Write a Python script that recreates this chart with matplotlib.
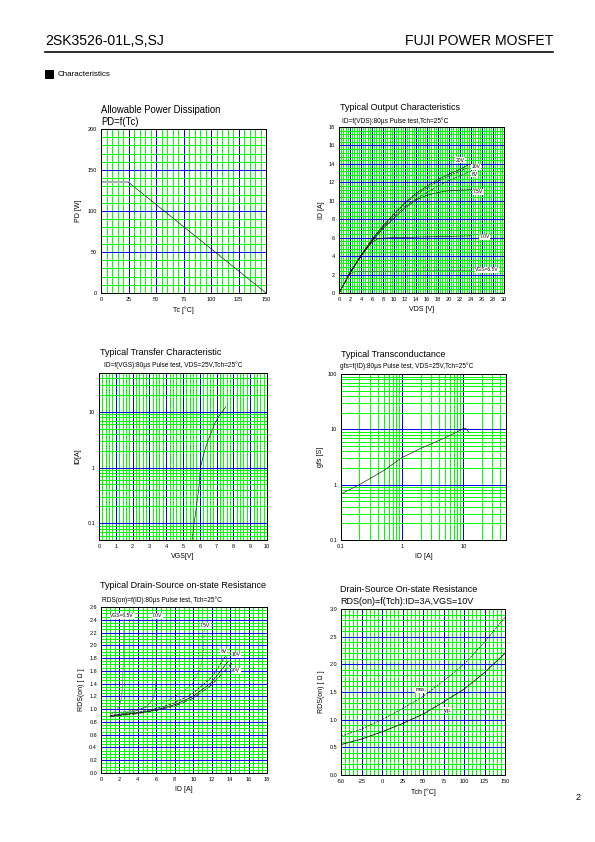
import numpy as np
import matplotlib
matplotlib.use("Agg")
import matplotlib.pyplot as plt
from matplotlib.ticker import MultipleLocator, LogLocator, NullFormatter, FixedLocator

plt.rcParams['font.family'] = ['Liberation Sans', 'DejaVu Sans']
plt.rcParams['axes.unicode_minus'] = False

# --- donnees ---
# puissance admissible
pd_tc = [25, 150]
pd_w = [135, 0]
pd_flat_tc = [0, 25]
pd_flat_w = [135, 135]

# caracteristiques de sortie (VDS, ID) par VGS
out_vds = [0, 2, 4, 6, 8, 10, 12, 14, 16, 18, 20, 22, 23.5]
out_20v = [0, 2.2, 4.1, 5.8, 7.3, 8.6, 9.8, 10.8, 11.6, 12.3, 12.9, 13.4, 13.9]
out_10v = [0, 2.2, 4.1, 5.8, 7.2, 8.5, 9.7, 10.6, 11.4, 12.1, 12.7, 13.2, 13.6]
out_8v = [0, 2.2, 4.0, 5.7, 7.1, 8.3, 9.4, 10.2, 10.9, 11.6, 12.2, 12.7, 13.1]
out_75v_vds = [0, 2, 4, 6, 8, 10, 12, 14, 16, 18, 20, 24]
out_75v = [0, 2.2, 4.0, 5.6, 7.0, 8.1, 9.2, 10.1, 10.6, 10.9, 11.1, 11.2]
out_7v_vds = [0, 2, 4, 5, 6, 7, 8, 10, 24]
out_7v = [0, 2.1, 4.0, 4.8, 5.5, 5.85, 5.95, 6.0, 6.2]
out_65v_vds = [0, 1, 2, 2.5, 3, 4, 24]
out_65v = [0, 1.1, 2.0, 2.2, 2.3, 2.35, 2.45]
out_labels = ["20V", "10V", "8V", "7.5V", "7.0V", "VGS=6.5V"]
out_lab_x = [22.0, 24.9, 24.7, 25.3, 26.5, 26.9]
out_lab_y = [14.4, 13.7, 12.9, 11.0, 6.1, 2.5]

# caracteristique de transfert
tr_vgs = [5.54, 5.66, 5.8, 5.95, 6.04, 6.2, 6.35, 6.51, 6.7, 6.9, 7.15, 7.4, 7.55]
tr_id = [0.05, 0.1, 0.2, 0.45, 1.0, 1.6, 2.3, 3.2, 4.4, 6.3, 8.5, 10.8, 12.3]

# transconductance
gfs_id = [0.1, 0.2, 0.5, 1, 2, 5, 8, 10.2, 11.3, 12.4]
gfs_s = [0.68, 1.0, 1.8, 3.1, 4.5, 7.0, 9.0, 10.5, 10.2, 8.7]

# RDS(on) = f(ID)
r_65v_id = [1, 1.5, 2.0, 2.25, 2.35, 2.42, 2.46, 2.5]
r_65v = [0.93, 0.96, 1.04, 1.2, 1.45, 1.8, 2.1, 2.4]
r_7v_id = [1, 2, 3, 4, 5, 5.6, 5.9, 6.0, 6.05, 6.1]
r_7v = [0.9, 0.92, 0.95, 0.98, 1.05, 1.15, 1.3, 1.5, 2.0, 2.45]
r_75v_id = [1, 3, 5, 7, 9, 10, 10.8, 11.1, 11.2]
r_75v = [0.93, 0.97, 1.03, 1.12, 1.28, 1.42, 1.65, 1.9, 2.25]
r_8v_id = [1, 4, 6, 8, 10, 12, 13.5]
r_8v = [0.9, 0.95, 1.01, 1.1, 1.25, 1.5, 1.83]
r_10v_id = [1, 4, 6, 8, 10, 12, 13.8]
r_10v = [0.89, 0.94, 0.99, 1.07, 1.2, 1.42, 1.75]
r_20v_id = [1, 4, 6, 8, 10, 12, 14.2]
r_20v = [0.88, 0.93, 0.98, 1.05, 1.17, 1.38, 1.72]
r_labels = ["VGS=6.5V", "7.0V", "7.5V", "8V", "10V", "20V"]
r_lab_x = [2.3, 6.1, 11.3, 13.3, 14.6, 14.6]
r_lab_y = [2.46, 2.46, 2.31, 1.9, 1.85, 1.6]

# RDS(on) = f(Tch)
tch = [-50, -25, 0, 25, 50, 75, 100, 125, 150]
rds_typ = [0.55, 0.65, 0.78, 0.93, 1.1, 1.32, 1.55, 1.85, 2.2]
rds_max = [0.7, 0.83, 1.0, 1.2, 1.42, 1.7, 2.0, 2.4, 2.85]

W, H = 595, 842
fig = plt.figure(figsize=(W / 72, H / 72), dpi=72)

GREEN = '#00ff00'
BLUE = '#0000ff'


def txt(x, y, s, **kw):
    kw.setdefault('va', 'center')
    return fig.text(x / W, 1 - y / H, s, **kw)


def axes_px(l, t, r, b):
    ax = fig.add_axes([l / W, 1 - b / H, (r - l) / W, (b - t) / H])
    ax.set_axisbelow(True)
    ax.tick_params(which='both', length=0, labelsize=5.5, pad=4)
    for s in ax.spines.values():
        s.set_linewidth(1.0)
    return ax


def grille(ax):
    ax.grid(which='minor', color=GREEN, lw=1.0, antialiased=False)
    ax.grid(which='major', color=BLUE, lw=1.0, antialiased=False)


def etiquette(ax, x, y, s):
    ax.text(x, y, s, fontsize=5, ha='center', va='center',
            bbox=dict(facecolor='white', edgecolor='none', pad=0.5))


# en-tete
txt(45, 41, "2SK3526-01L,S,SJ", fontsize=14)
txt(553, 41, "FUJI POWER MOSFET", fontsize=14, ha='right')
fig.add_artist(plt.Line2D([45 / W, 553 / W], [1 - 52 / H, 1 - 52 / H], color='black', lw=1.6))
fig.add_artist(plt.Rectangle((45 / W, 1 - 78 / H), 8 / W, 8 / H, color='black'))
txt(58, 74, "Characteristics", fontsize=8)
txt(581, 797, "2", fontsize=9, ha='right')

# 1. puissance admissible
ax = axes_px(101, 129, 266, 293)
ax.set_xlim(0, 150)
ax.set_ylim(0, 200)
ax.xaxis.set_major_locator(MultipleLocator(25))
ax.xaxis.set_minor_locator(MultipleLocator(5))
ax.yaxis.set_major_locator(MultipleLocator(50))
ax.yaxis.set_minor_locator(MultipleLocator(10))
grille(ax)
ax.plot(pd_flat_tc, pd_flat_w, color='#b0b0b0', lw=2)
ax.plot(pd_tc, pd_w, color='black', lw=0.6)
txt(101, 110, "Allowable Power Dissipation", fontsize=9.5)
txt(101, 122, "PD=f(Tc)", fontsize=9.5)
ax.set_xlabel("Tc [°C]", fontsize=7, labelpad=4)
ax.set_ylabel("PD [W]", fontsize=7, labelpad=6)

# 2. caracteristiques de sortie
ax = axes_px(339, 127, 504, 293)
ax.set_xlim(0, 30)
ax.set_ylim(0, 18)
ax.xaxis.set_major_locator(MultipleLocator(2))
ax.xaxis.set_minor_locator(MultipleLocator(0.4))
ax.yaxis.set_major_locator(MultipleLocator(2))
ax.yaxis.set_minor_locator(MultipleLocator(0.4))
grille(ax)
ax.plot(out_vds, out_20v, color='black', lw=0.6)
ax.plot(out_vds, out_10v, color='black', lw=0.6, ls='--')
ax.plot(out_vds, out_8v, color='black', lw=0.6, ls='-.')
ax.plot(out_75v_vds, out_75v, color='black', lw=0.6)
ax.plot(out_7v_vds, out_7v, color='black', lw=0.6)
ax.plot(out_65v_vds, out_65v, color='#555555', lw=0.6)
for s, x, y in zip(out_labels, out_lab_x, out_lab_y):
    etiquette(ax, x, y, s)
txt(340, 108, "Typical Output Characteristics", fontsize=9)
txt(342, 121, "ID=f(VDS):80µs Pulse test,Tch=25°C", fontsize=6.5)
ax.set_xlabel("VDS [V]", fontsize=7, labelpad=4)
ax.set_ylabel("ID [A]", fontsize=7, labelpad=4)

# 3. caracteristique de transfert
ax = axes_px(99, 373, 267, 540)
ax.set_xlim(0, 10)
ax.set_yscale('log')
ax.set_ylim(0.05, 50)
ax.xaxis.set_major_locator(MultipleLocator(1))
ax.xaxis.set_minor_locator(MultipleLocator(0.2))
ax.yaxis.set_major_locator(FixedLocator([0.1, 1, 10]))
ax.yaxis.set_minor_locator(LogLocator(base=10, subs=np.arange(2, 10)))
ax.yaxis.set_minor_formatter(NullFormatter())
ax.set_yticklabels(["0.1", "1", "10"])
grille(ax)
ax.plot(tr_vgs, tr_id, color='black', lw=0.6)
txt(100, 352, "Typical Transfer Characteristic", fontsize=9)
txt(104, 365, "ID=f(VGS):80µs Pulse test, VDS=25V,Tch=25°C", fontsize=6.5)
ax.set_xlabel("VGS[V]", fontsize=7, labelpad=4)
ax.set_ylabel("ID[A]", fontsize=7, labelpad=6)

# 4. transconductance
ax = axes_px(341, 374, 506, 540)
ax.set_xscale('log')
ax.set_yscale('log')
ax.set_xlim(0.1, 50)
ax.set_ylim(0.1, 100)
ax.xaxis.set_major_locator(FixedLocator([0.1, 1, 10]))
ax.yaxis.set_major_locator(FixedLocator([0.1, 1, 10, 100]))
for a in (ax.xaxis, ax.yaxis):
    a.set_minor_locator(LogLocator(base=10, subs=np.arange(2, 10)))
    a.set_minor_formatter(NullFormatter())
ax.set_xticklabels(["0.1", "1", "10"])
ax.set_yticklabels(["0.1", "1", "10", "100"])
grille(ax)
ax.plot(gfs_id, gfs_s, color='black', lw=0.6)
txt(341, 355, "Typical Transconductance", fontsize=9)
txt(340, 366, "gfs=f(ID):80µs Pulse test, VDS=25V,Tch=25°C", fontsize=6.5)
ax.set_xlabel("ID [A]", fontsize=7, labelpad=4)
ax.set_ylabel("gfs [S]", fontsize=7, labelpad=4)

# 5. RDS(on) = f(ID)
ax = axes_px(101, 607, 267, 773)
ax.set_xlim(0, 18)
ax.set_ylim(0, 2.6)
ax.xaxis.set_major_locator(MultipleLocator(2))
ax.xaxis.set_minor_locator(MultipleLocator(0.5))
ax.yaxis.set_major_locator(MultipleLocator(0.2))
ax.yaxis.set_minor_locator(MultipleLocator(0.05))
ax.yaxis.set_major_formatter(plt.FormatStrFormatter('%.1f'))
grille(ax)
ax.plot(r_65v_id, r_65v, color='#777777', lw=0.7)
ax.plot(r_7v_id, r_7v, color='#555555', lw=0.7)
ax.plot(r_75v_id, r_75v, color='black', lw=0.7, ls=':')
ax.plot(r_8v_id, r_8v, color='black', lw=0.7, ls='--')
ax.plot(r_10v_id, r_10v, color='black', lw=0.7)
ax.plot(r_20v_id, r_20v, color='black', lw=0.7, ls='-.')
for s, x, y in zip(r_labels, r_lab_x, r_lab_y):
    etiquette(ax, x, y, s)
txt(100, 586, "Typical Drain-Source on-state Resistance", fontsize=9)
txt(102, 600, "RDS(on)=f(ID):80µs Pulse test, Tch=25°C", fontsize=6.5)
ax.set_xlabel("ID [A]", fontsize=7, labelpad=4)
ax.set_ylabel("RDS(on) [ Ω ]", fontsize=7, labelpad=4)

# 6. RDS(on) = f(Tch)
ax = axes_px(341, 609, 505, 775)
ax.set_xlim(-50, 150)
ax.set_ylim(0, 3)
ax.xaxis.set_major_locator(MultipleLocator(25))
ax.xaxis.set_minor_locator(MultipleLocator(5))
ax.yaxis.set_major_locator(MultipleLocator(0.5))
ax.yaxis.set_minor_locator(MultipleLocator(0.1))
ax.yaxis.set_major_formatter(plt.FormatStrFormatter('%.1f'))
grille(ax)
ax.plot(tch, rds_max, color='black', lw=0.6, ls='--')
ax.plot(tch, rds_typ, color='black', lw=0.8)
etiquette(ax, 48, 1.54, "max.")
etiquette(ax, 80, 1.17, "typ.")
txt(340, 589, "Drain-Source On-state Resistance", fontsize=9)
txt(340, 601, "RDS(on)=f(Tch):ID=3A,VGS=10V", fontsize=9)
ax.set_xlabel("Tch [°C]", fontsize=7, labelpad=4)
ax.set_ylabel("RDS(on) [ Ω ]", fontsize=7, labelpad=4)

fig.savefig("out.png", dpi=72)
